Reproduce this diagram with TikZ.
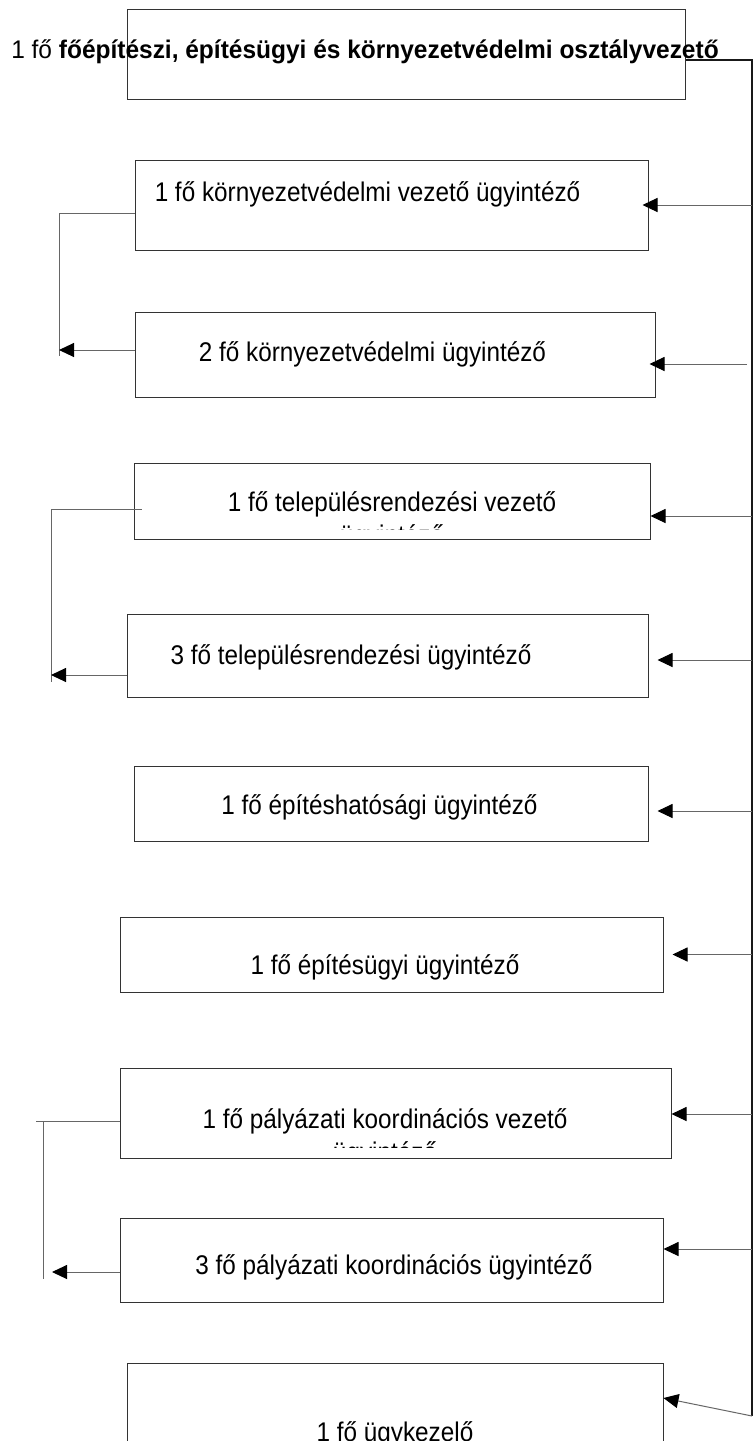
\documentclass[tikz,border=0pt]{standalone}
\usepackage{fontspec}
\setmainfont{Liberation Sans}
\newfontfamily\orgfont[FakeStretch=0.96]{Liberation Sans}
\newfontfamily\unitfont[FakeStretch=0.9]{Liberation Sans}
\usetikzlibrary{arrows.meta, positioning, calc}
\newcommand\twolines[2]{\vtop{\baselineskip=33pt\halign{\hfil##\hfil\cr#1\cr#2\cr}}}
\tikzset{
  unitbox/.style={rectangle, draw=black!80, line width=1pt, inner sep=0pt, fill=white},
  unittext/.style={font=\unitfont\fontsize{27}{33}\selectfont, inner sep=0pt, anchor=base},
  headtext/.style={unittext, font=\orgfont\fontsize{25.5}{30}\selectfont},
  link/.style={draw=black!60, line width=1pt},
  rail/.style={draw=black!90, line width=1.2pt},
  arrow/.style={link, -{Triangle[length=15pt, width=14pt, color=black]}},
}

\begin{document}
\begin{tikzpicture}[x=1pt, y=-1pt]

  \clip (0,0) rectangle (755,1441);

  %% boxes
  \foreach \n/\cx/\cy/\w/\h in {
    1/406/54/558/90,
    2/391.5/205/513/90,
    3/395/354.5/520/85,
    4/392/501/516/76,
    5/387.5/655.5/521/83,
    6/391/803.5/514/75,
    7/391.5/954.5/543/75,
    8/395.5/1113/551/90,
    9/391.5/1260/543/84,
    10/395/1421.5/536/117}
  {
    \node[unitbox, minimum width=\w pt, minimum height=\h pt] (b\n) at (\cx,\cy) {};
  }

  %% texts
  \node[headtext] (t1) at (365,58) {1 fő \textbf{főépítészi, építésügyi és környezetvédelmi osztályvezető}};
  \foreach \n/\tx/\ty/\lbl in {
    2/367.5/201/{1 fő környezetvédelmi vezető ügyintéző},
    3/372.5/361/{2 fő környezetvédelmi ügyintéző},
    5/351/664/{3 fő településrendezési ügyintéző},
    6/379.5/814/{1 fő építéshatósági ügyintéző},
    7/385/974/{1 fő építésügyi ügyintéző},
    9/394/1274/{3 fő pályázati koordinációs ügyintéző},
    10/395/1441/{1 fő ügykezelő}}
  {
    \node[unittext] (t\n) at (\tx,\ty) {\lbl};
  }
  \begin{scope}
    \clip (b4.north west) rectangle ([yshift=10pt]b4.south east);
    \node[unittext] (t4) at (392,511) {\twolines{1 fő településrendezési vezető}{ügyintéző}};
  \end{scope}
  \begin{scope}
    \clip (b8.north west) rectangle ([yshift=11pt]b8.south east);
    \node[unittext] (t8) at (385,1128) {\twolines{1 fő pályázati koordinációs vezető}{ügyintéző}};
  \end{scope}

  %% right rail
  \coordinate (railtop) at (752,60);
  \coordinate (railbot) at (752,1416);
  \draw[rail] ([yshift=-6pt]b1.east) -- (railtop) -- (railbot);

  \foreach \n/\dy/\sh in {2/0/-6, 4/-15/0, 5/-4.5/9, 6/-7.5/9, 7/0/9, 8/-1/0, 9/11/0}
  {
    \draw[arrow, shorten >=\sh pt] ([yshift=\dy pt]b\n.east -| railtop) -- ([yshift=\dy pt]b\n.east);
  }
  \draw[arrow, shorten <=5pt, shorten >=-6pt] ([yshift=-9.5pt]b3.east -| railtop) -- ([yshift=-9.5pt]b3.east);
  \draw[arrow] (railbot) -- ([yshift=23.5pt]b10.east);

  %% left links
  \coordinate (spineA) at (59,356);
  \draw[link] ([yshift=-8.5pt]b2.west) -| (spineA);
  \draw[arrow] ([yshift=4.5pt]b3.west) -- ([yshift=4.5pt]b3.west -| spineA);

  \coordinate (spineB) at (51,682);
  \draw[link] ([xshift=8pt, yshift=-8pt]b4.west) -| (spineB);
  \draw[arrow] ([yshift=-19.5pt]b5.west) -- ([yshift=-19.5pt]b5.west -| spineB);

  \coordinate (spineCtop) at (36,1121);
  \coordinate (spineC) at (43,1279);
  \draw[link] ([yshift=-8pt]b8.west) -- (spineCtop);
  \draw[link] (spineCtop -| spineC) -- (spineC);
  \draw[arrow, shorten >=9pt] ([yshift=-12pt]b9.west) -- ([yshift=-12pt]b9.west -| spineC);

\end{tikzpicture}
\end{document}
